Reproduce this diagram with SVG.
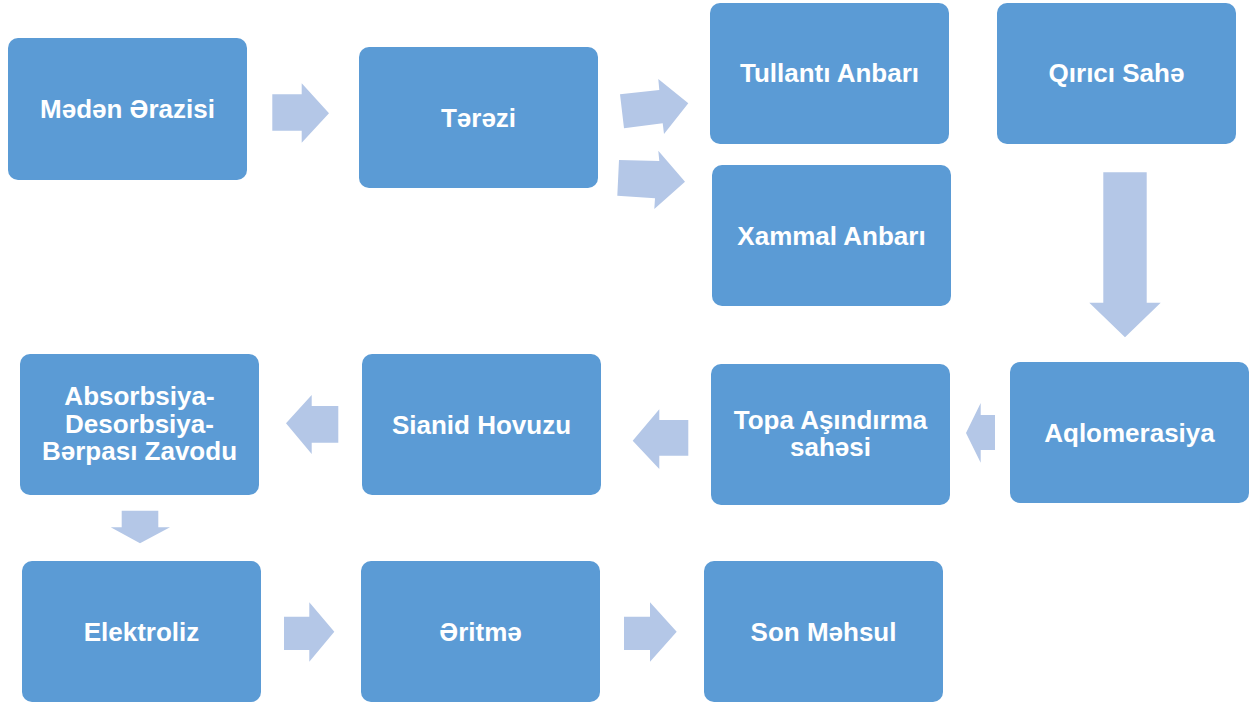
<svg xmlns="http://www.w3.org/2000/svg" width="1255" height="703" viewBox="0 0 1255 703">
<style>
.box{fill:#5B9BD5}
.arr{fill:#B4C7E7}
.t{fill:#FFFFFF;font-family:"Liberation Sans",Arial,sans-serif;font-weight:bold;font-size:26px;text-anchor:middle}
</style>
<rect width="1255" height="703" fill="#FFFFFF"/>
<g id="connectors">
<polygon class="arr" points="272.3,94.3 301.7,94.3 301.7,83.3 329,113.3 301.7,142.7 301.7,130.7 272.3,130.7"/>
<polygon class="arr" points="620,94.3 659.3,90 658.3,79 688.3,103.3 664,134 662.7,123.3 624,128.3"/>
<polygon class="arr" points="619,160 659.3,161 658.3,150.7 685,181.7 654.3,209 655,198.3 617.3,195.7"/>
<polygon class="arr" points="1103.3,172.3 1146.7,172.3 1146.7,302.7 1160.7,302.7 1125,337.3 1089.3,302.7 1103.3,302.7"/>
<polygon class="arr" points="995,415 980.7,415 980.7,403 966,433 980.7,462.7 980.7,450 995,450"/>
<polygon class="arr" points="688.3,420 659.3,420 659.3,409.3 632.7,440.7 659.3,469 659.3,455.7 688.3,455.7"/>
<polygon class="arr" points="338.3,406 311.7,406 311.7,395 286,423.3 311.7,454 311.7,442.7 338.3,442.7"/>
<polygon class="arr" points="121.7,510.7 158.3,510.7 158.3,527.3 170,527.3 140,543.3 110.7,527.3 121.7,527.3"/>
<polygon class="arr" points="284,616.7 309.3,616.7 309.3,602.3 334.3,631.7 309.3,661.7 309.3,650 284,650"/>
<polygon class="arr" points="624,616.7 650,616.7 650,602.3 676.7,631.7 650,661.7 650,650 624,650"/>
</g>
<g id="meden"><rect class="box" x="8" y="38" width="239" height="142" rx="10"/><text class="t" x="127.5" y="118">Mədən Ərazisi</text></g>
<g id="terezi"><rect class="box" x="359" y="47" width="239" height="141" rx="10"/><text class="t" x="478.5" y="126.5">Tərəzi</text></g>
<g id="tullanti"><rect class="box" x="710" y="3" width="239" height="141" rx="10"/><text class="t" x="829.5" y="82">Tullantı Anbarı</text></g>
<g id="qirici"><rect class="box" x="997" y="3" width="239" height="141" rx="10"/><text class="t" x="1116.5" y="82">Qırıcı Sahə</text></g>
<g id="xammal"><rect class="box" x="712" y="165" width="239" height="141" rx="10"/><text class="t" x="831.5" y="244.5">Xammal Anbarı</text></g>
<g id="aqlomerasiya"><rect class="box" x="1010" y="362" width="239" height="141" rx="10"/><text class="t" x="1129.5" y="441.5">Aqlomerasiya</text></g>
<g id="topa"><rect class="box" x="711" y="364" width="239" height="141" rx="10"/><text class="t" x="830.5" y="429">Topa Aşındırma</text><text class="t" x="830.5" y="456">sahəsi</text></g>
<g id="sianid"><rect class="box" x="362" y="354" width="239" height="141" rx="10"/><text class="t" x="481.5" y="433.5">Sianid Hovuzu</text></g>
<g id="absorbsiya"><rect class="box" x="20" y="354" width="239" height="141" rx="10"/><text class="t" x="139.5" y="405">Absorbsiya-</text><text class="t" x="139.5" y="432.5">Desorbsiya-</text><text class="t" x="139.5" y="460">Bərpası Zavodu</text></g>
<g id="elektroliz"><rect class="box" x="22" y="561" width="239" height="141" rx="10"/><text class="t" x="141.5" y="640.5">Elektroliz</text></g>
<g id="eritme"><rect class="box" x="361" y="561" width="239" height="141" rx="10"/><text class="t" x="480.5" y="640.5">Əritmə</text></g>
<g id="son"><rect class="box" x="704" y="561" width="239" height="141" rx="10"/><text class="t" x="823.5" y="640.5">Son Məhsul</text></g>
</svg>
